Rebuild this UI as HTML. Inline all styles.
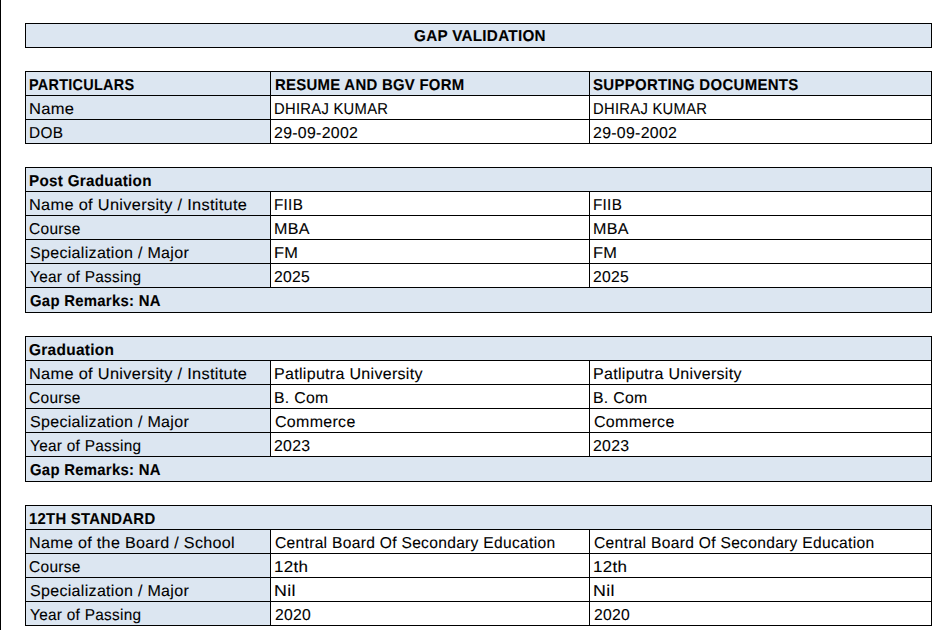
<!DOCTYPE html>
<html><head><meta charset="utf-8"><style>
html,body{margin:0;padding:0;background:#fff;width:932px;height:630px;overflow:hidden;position:relative}
.b{position:absolute}
.t{position:absolute;white-space:nowrap;font-family:"Liberation Sans",sans-serif;color:#000;line-height:20px;transform-origin:0 0;text-rendering:geometricPrecision;-webkit-text-stroke:0.1px #000}
</style></head><body>
<div class="b" style="left:0px;top:0px;width:1.2px;height:630px;background:#000"></div><div class="b" style="left:25px;top:23px;width:907px;height:25px;background:#DCE6F1"></div><div class="b" style="left:25px;top:23px;width:907px;height:1px;background:#000"></div><div class="b" style="left:25px;top:47px;width:907px;height:1px;background:#000"></div><div class="b" style="left:25px;top:23px;width:1px;height:25px;background:#000"></div><div class="b" style="left:931px;top:23px;width:1px;height:25px;background:#000"></div><div class="b" style="left:25px;top:71px;width:907px;height:25px;background:#DCE6F1"></div><div class="b" style="left:25px;top:71px;width:907px;height:1px;background:#000"></div><div class="b" style="left:25px;top:95px;width:907px;height:1px;background:#000"></div><div class="b" style="left:25px;top:71px;width:1px;height:25px;background:#000"></div><div class="b" style="left:931px;top:71px;width:1px;height:25px;background:#000"></div><div class="b" style="left:270px;top:71px;width:1px;height:25px;background:#000"></div><div class="b" style="left:589px;top:71px;width:1px;height:25px;background:#000"></div><div class="b" style="left:25px;top:95px;width:245px;height:25px;background:#DCE6F1"></div><div class="b" style="left:25px;top:95px;width:907px;height:1px;background:#000"></div><div class="b" style="left:25px;top:119px;width:907px;height:1px;background:#000"></div><div class="b" style="left:25px;top:95px;width:1px;height:25px;background:#000"></div><div class="b" style="left:931px;top:95px;width:1px;height:25px;background:#000"></div><div class="b" style="left:270px;top:95px;width:1px;height:25px;background:#000"></div><div class="b" style="left:589px;top:95px;width:1px;height:25px;background:#000"></div><div class="b" style="left:25px;top:119px;width:245px;height:25px;background:#DCE6F1"></div><div class="b" style="left:25px;top:119px;width:907px;height:1px;background:#000"></div><div class="b" style="left:25px;top:143px;width:907px;height:1px;background:#000"></div><div class="b" style="left:25px;top:119px;width:1px;height:25px;background:#000"></div><div class="b" style="left:931px;top:119px;width:1px;height:25px;background:#000"></div><div class="b" style="left:270px;top:119px;width:1px;height:25px;background:#000"></div><div class="b" style="left:589px;top:119px;width:1px;height:25px;background:#000"></div><div class="b" style="left:25px;top:167px;width:907px;height:25px;background:#DCE6F1"></div><div class="b" style="left:25px;top:167px;width:907px;height:1px;background:#000"></div><div class="b" style="left:25px;top:191px;width:907px;height:1px;background:#000"></div><div class="b" style="left:25px;top:167px;width:1px;height:25px;background:#000"></div><div class="b" style="left:931px;top:167px;width:1px;height:25px;background:#000"></div><div class="b" style="left:25px;top:191px;width:245px;height:25px;background:#DCE6F1"></div><div class="b" style="left:25px;top:191px;width:907px;height:1px;background:#000"></div><div class="b" style="left:25px;top:215px;width:907px;height:1px;background:#000"></div><div class="b" style="left:25px;top:191px;width:1px;height:25px;background:#000"></div><div class="b" style="left:931px;top:191px;width:1px;height:25px;background:#000"></div><div class="b" style="left:270px;top:191px;width:1px;height:25px;background:#000"></div><div class="b" style="left:589px;top:191px;width:1px;height:25px;background:#000"></div><div class="b" style="left:25px;top:215px;width:245px;height:25px;background:#DCE6F1"></div><div class="b" style="left:25px;top:215px;width:907px;height:1px;background:#000"></div><div class="b" style="left:25px;top:239px;width:907px;height:1px;background:#000"></div><div class="b" style="left:25px;top:215px;width:1px;height:25px;background:#000"></div><div class="b" style="left:931px;top:215px;width:1px;height:25px;background:#000"></div><div class="b" style="left:270px;top:215px;width:1px;height:25px;background:#000"></div><div class="b" style="left:589px;top:215px;width:1px;height:25px;background:#000"></div><div class="b" style="left:25px;top:239px;width:245px;height:25px;background:#DCE6F1"></div><div class="b" style="left:25px;top:239px;width:907px;height:1px;background:#000"></div><div class="b" style="left:25px;top:263px;width:907px;height:1px;background:#000"></div><div class="b" style="left:25px;top:239px;width:1px;height:25px;background:#000"></div><div class="b" style="left:931px;top:239px;width:1px;height:25px;background:#000"></div><div class="b" style="left:270px;top:239px;width:1px;height:25px;background:#000"></div><div class="b" style="left:589px;top:239px;width:1px;height:25px;background:#000"></div><div class="b" style="left:25px;top:263px;width:245px;height:25px;background:#DCE6F1"></div><div class="b" style="left:25px;top:263px;width:907px;height:1px;background:#000"></div><div class="b" style="left:25px;top:287px;width:907px;height:1px;background:#000"></div><div class="b" style="left:25px;top:263px;width:1px;height:25px;background:#000"></div><div class="b" style="left:931px;top:263px;width:1px;height:25px;background:#000"></div><div class="b" style="left:270px;top:263px;width:1px;height:25px;background:#000"></div><div class="b" style="left:589px;top:263px;width:1px;height:25px;background:#000"></div><div class="b" style="left:25px;top:287px;width:907px;height:26px;background:#DCE6F1"></div><div class="b" style="left:25px;top:287px;width:907px;height:1px;background:#000"></div><div class="b" style="left:25px;top:312px;width:907px;height:1px;background:#000"></div><div class="b" style="left:25px;top:287px;width:1px;height:26px;background:#000"></div><div class="b" style="left:931px;top:287px;width:1px;height:26px;background:#000"></div><div class="b" style="left:25px;top:336px;width:907px;height:25px;background:#DCE6F1"></div><div class="b" style="left:25px;top:336px;width:907px;height:1px;background:#000"></div><div class="b" style="left:25px;top:360px;width:907px;height:1px;background:#000"></div><div class="b" style="left:25px;top:336px;width:1px;height:25px;background:#000"></div><div class="b" style="left:931px;top:336px;width:1px;height:25px;background:#000"></div><div class="b" style="left:25px;top:360px;width:245px;height:25px;background:#DCE6F1"></div><div class="b" style="left:25px;top:360px;width:907px;height:1px;background:#000"></div><div class="b" style="left:25px;top:384px;width:907px;height:1px;background:#000"></div><div class="b" style="left:25px;top:360px;width:1px;height:25px;background:#000"></div><div class="b" style="left:931px;top:360px;width:1px;height:25px;background:#000"></div><div class="b" style="left:270px;top:360px;width:1px;height:25px;background:#000"></div><div class="b" style="left:589px;top:360px;width:1px;height:25px;background:#000"></div><div class="b" style="left:25px;top:384px;width:245px;height:25px;background:#DCE6F1"></div><div class="b" style="left:25px;top:384px;width:907px;height:1px;background:#000"></div><div class="b" style="left:25px;top:408px;width:907px;height:1px;background:#000"></div><div class="b" style="left:25px;top:384px;width:1px;height:25px;background:#000"></div><div class="b" style="left:931px;top:384px;width:1px;height:25px;background:#000"></div><div class="b" style="left:270px;top:384px;width:1px;height:25px;background:#000"></div><div class="b" style="left:589px;top:384px;width:1px;height:25px;background:#000"></div><div class="b" style="left:25px;top:408px;width:245px;height:25px;background:#DCE6F1"></div><div class="b" style="left:25px;top:408px;width:907px;height:1px;background:#000"></div><div class="b" style="left:25px;top:432px;width:907px;height:1px;background:#000"></div><div class="b" style="left:25px;top:408px;width:1px;height:25px;background:#000"></div><div class="b" style="left:931px;top:408px;width:1px;height:25px;background:#000"></div><div class="b" style="left:270px;top:408px;width:1px;height:25px;background:#000"></div><div class="b" style="left:589px;top:408px;width:1px;height:25px;background:#000"></div><div class="b" style="left:25px;top:432px;width:245px;height:25px;background:#DCE6F1"></div><div class="b" style="left:25px;top:432px;width:907px;height:1px;background:#000"></div><div class="b" style="left:25px;top:456px;width:907px;height:1px;background:#000"></div><div class="b" style="left:25px;top:432px;width:1px;height:25px;background:#000"></div><div class="b" style="left:931px;top:432px;width:1px;height:25px;background:#000"></div><div class="b" style="left:270px;top:432px;width:1px;height:25px;background:#000"></div><div class="b" style="left:589px;top:432px;width:1px;height:25px;background:#000"></div><div class="b" style="left:25px;top:456px;width:907px;height:26px;background:#DCE6F1"></div><div class="b" style="left:25px;top:456px;width:907px;height:1px;background:#000"></div><div class="b" style="left:25px;top:481px;width:907px;height:1px;background:#000"></div><div class="b" style="left:25px;top:456px;width:1px;height:26px;background:#000"></div><div class="b" style="left:931px;top:456px;width:1px;height:26px;background:#000"></div><div class="b" style="left:25px;top:505px;width:907px;height:25px;background:#DCE6F1"></div><div class="b" style="left:25px;top:505px;width:907px;height:1px;background:#000"></div><div class="b" style="left:25px;top:529px;width:907px;height:1px;background:#000"></div><div class="b" style="left:25px;top:505px;width:1px;height:25px;background:#000"></div><div class="b" style="left:931px;top:505px;width:1px;height:25px;background:#000"></div><div class="b" style="left:25px;top:529px;width:245px;height:25px;background:#DCE6F1"></div><div class="b" style="left:25px;top:529px;width:907px;height:1px;background:#000"></div><div class="b" style="left:25px;top:553px;width:907px;height:1px;background:#000"></div><div class="b" style="left:25px;top:529px;width:1px;height:25px;background:#000"></div><div class="b" style="left:931px;top:529px;width:1px;height:25px;background:#000"></div><div class="b" style="left:270px;top:529px;width:1px;height:25px;background:#000"></div><div class="b" style="left:589px;top:529px;width:1px;height:25px;background:#000"></div><div class="b" style="left:25px;top:553px;width:245px;height:25px;background:#DCE6F1"></div><div class="b" style="left:25px;top:553px;width:907px;height:1px;background:#000"></div><div class="b" style="left:25px;top:577px;width:907px;height:1px;background:#000"></div><div class="b" style="left:25px;top:553px;width:1px;height:25px;background:#000"></div><div class="b" style="left:931px;top:553px;width:1px;height:25px;background:#000"></div><div class="b" style="left:270px;top:553px;width:1px;height:25px;background:#000"></div><div class="b" style="left:589px;top:553px;width:1px;height:25px;background:#000"></div><div class="b" style="left:25px;top:577px;width:245px;height:25px;background:#DCE6F1"></div><div class="b" style="left:25px;top:577px;width:907px;height:1px;background:#000"></div><div class="b" style="left:25px;top:601px;width:907px;height:1px;background:#000"></div><div class="b" style="left:25px;top:577px;width:1px;height:25px;background:#000"></div><div class="b" style="left:931px;top:577px;width:1px;height:25px;background:#000"></div><div class="b" style="left:270px;top:577px;width:1px;height:25px;background:#000"></div><div class="b" style="left:589px;top:577px;width:1px;height:25px;background:#000"></div><div class="b" style="left:25px;top:601px;width:245px;height:25px;background:#DCE6F1"></div><div class="b" style="left:25px;top:601px;width:907px;height:1px;background:#000"></div><div class="b" style="left:25px;top:625px;width:907px;height:1px;background:#000"></div><div class="b" style="left:25px;top:601px;width:1px;height:25px;background:#000"></div><div class="b" style="left:931px;top:601px;width:1px;height:25px;background:#000"></div><div class="b" style="left:270px;top:601px;width:1px;height:25px;background:#000"></div><div class="b" style="left:589px;top:601px;width:1px;height:25px;background:#000"></div><div class="t" style="left:413.70px;top:26.53px;font-size:15.8px;font-weight:bold;letter-spacing:0.3px;transform:scaleX(0.9645)">GAP VALIDATION</div><div class="t" style="left:29.29px;top:75.53px;font-size:15.8px;font-weight:bold;letter-spacing:0.3px;transform:scaleX(0.9140)">PARTICULARS</div><div class="t" style="left:274.74px;top:75.53px;font-size:15.8px;font-weight:bold;letter-spacing:0.3px;transform:scaleX(0.9435)">RESUME AND BGV FORM</div><div class="t" style="left:593.30px;top:75.53px;font-size:15.8px;font-weight:bold;letter-spacing:0.3px;transform:scaleX(0.9486)">SUPPORTING DOCUMENTS</div><div class="t" style="left:28.73px;top:99.53px;font-size:15.8px;font-weight:normal;letter-spacing:0.3px;transform:scaleX(1.0457)">Name</div><div class="t" style="left:274.28px;top:99.53px;font-size:15.8px;font-weight:normal;letter-spacing:0.3px;transform:scaleX(0.9360)">DHIRAJ KUMAR</div><div class="t" style="left:593.28px;top:99.53px;font-size:15.8px;font-weight:normal;letter-spacing:0.3px;transform:scaleX(0.9360)">DHIRAJ KUMAR</div><div class="t" style="left:28.83px;top:123.53px;font-size:15.8px;font-weight:normal;letter-spacing:0.3px;transform:scaleX(0.9729)">DOB</div><div class="t" style="left:274.46px;top:123.53px;font-size:15.8px;font-weight:normal;letter-spacing:0.3px;transform:scaleX(1.0050)">29-09-2002</div><div class="t" style="left:593.46px;top:123.53px;font-size:15.8px;font-weight:normal;letter-spacing:0.3px;transform:scaleX(1.0050)">29-09-2002</div><div class="t" style="left:29.14px;top:171.53px;font-size:15.8px;font-weight:bold;letter-spacing:0.3px;transform:scaleX(0.9635)">Post Graduation</div><div class="t" style="left:28.53px;top:195.53px;font-size:15.8px;font-weight:normal;letter-spacing:0.3px;transform:scaleX(1.0348)">Name of University / Institute</div><div class="t" style="left:274.19px;top:195.53px;font-size:15.8px;font-weight:normal;letter-spacing:0.3px;transform:scaleX(0.9641)">FIIB</div><div class="t" style="left:593.19px;top:195.53px;font-size:15.8px;font-weight:normal;letter-spacing:0.3px;transform:scaleX(0.9641)">FIIB</div><div class="t" style="left:29.22px;top:219.53px;font-size:15.8px;font-weight:normal;letter-spacing:0.3px;transform:scaleX(0.9803)">Course</div><div class="t" style="left:273.91px;top:219.53px;font-size:15.8px;font-weight:normal;letter-spacing:0.3px;transform:scaleX(1.0179)">MBA</div><div class="t" style="left:592.91px;top:219.53px;font-size:15.8px;font-weight:normal;letter-spacing:0.3px;transform:scaleX(1.0179)">MBA</div><div class="t" style="left:29.74px;top:243.53px;font-size:15.8px;font-weight:normal;letter-spacing:0.3px;transform:scaleX(1.0147)">Specialization / Major</div><div class="t" style="left:274.22px;top:243.53px;font-size:15.8px;font-weight:normal;letter-spacing:0.3px;transform:scaleX(1.0362)">FM</div><div class="t" style="left:593.22px;top:243.53px;font-size:15.8px;font-weight:normal;letter-spacing:0.3px;transform:scaleX(1.0362)">FM</div><div class="t" style="left:30.06px;top:267.53px;font-size:15.8px;font-weight:normal;letter-spacing:0.3px;transform:scaleX(0.9722)">Year of Passing</div><div class="t" style="left:274.49px;top:267.53px;font-size:15.8px;font-weight:normal;letter-spacing:0.3px;transform:scaleX(0.9931)">2025</div><div class="t" style="left:593.49px;top:267.53px;font-size:15.8px;font-weight:normal;letter-spacing:0.3px;transform:scaleX(0.9931)">2025</div><div class="t" style="left:29.97px;top:291.53px;font-size:15.8px;font-weight:bold;letter-spacing:0.3px;transform:scaleX(0.9420)">Gap Remarks: NA</div><div class="t" style="left:29.28px;top:340.53px;font-size:15.8px;font-weight:bold;letter-spacing:0.3px;transform:scaleX(0.9774)">Graduation</div><div class="t" style="left:28.53px;top:364.53px;font-size:15.8px;font-weight:normal;letter-spacing:0.3px;transform:scaleX(1.0348)">Name of University / Institute</div><div class="t" style="left:274.26px;top:364.53px;font-size:15.8px;font-weight:normal;letter-spacing:0.3px;transform:scaleX(1.0137)">Patliputra University</div><div class="t" style="left:593.26px;top:364.53px;font-size:15.8px;font-weight:normal;letter-spacing:0.3px;transform:scaleX(1.0137)">Patliputra University</div><div class="t" style="left:29.22px;top:388.53px;font-size:15.8px;font-weight:normal;letter-spacing:0.3px;transform:scaleX(0.9803)">Course</div><div class="t" style="left:273.62px;top:388.53px;font-size:15.8px;font-weight:normal;letter-spacing:0.3px;transform:scaleX(1.0003)">B. Com</div><div class="t" style="left:592.62px;top:388.53px;font-size:15.8px;font-weight:normal;letter-spacing:0.3px;transform:scaleX(1.0003)">B. Com</div><div class="t" style="left:29.74px;top:412.53px;font-size:15.8px;font-weight:normal;letter-spacing:0.3px;transform:scaleX(1.0147)">Specialization / Major</div><div class="t" style="left:274.60px;top:412.53px;font-size:15.8px;font-weight:normal;letter-spacing:0.3px;transform:scaleX(1.0120)">Commerce</div><div class="t" style="left:593.60px;top:412.53px;font-size:15.8px;font-weight:normal;letter-spacing:0.3px;transform:scaleX(1.0120)">Commerce</div><div class="t" style="left:30.06px;top:436.53px;font-size:15.8px;font-weight:normal;letter-spacing:0.3px;transform:scaleX(0.9722)">Year of Passing</div><div class="t" style="left:274.46px;top:436.53px;font-size:15.8px;font-weight:normal;letter-spacing:0.3px;transform:scaleX(1.0022)">2023</div><div class="t" style="left:593.46px;top:436.53px;font-size:15.8px;font-weight:normal;letter-spacing:0.3px;transform:scaleX(1.0022)">2023</div><div class="t" style="left:29.97px;top:460.53px;font-size:15.8px;font-weight:bold;letter-spacing:0.3px;transform:scaleX(0.9420)">Gap Remarks: NA</div><div class="t" style="left:29.26px;top:509.53px;font-size:15.8px;font-weight:bold;letter-spacing:0.3px;transform:scaleX(0.9406)">12TH STANDARD</div><div class="t" style="left:28.97px;top:533.53px;font-size:15.8px;font-weight:normal;letter-spacing:0.3px;transform:scaleX(1.0202)">Name of the Board / School</div><div class="t" style="left:275.04px;top:533.53px;font-size:15.8px;font-weight:normal;letter-spacing:0.3px;transform:scaleX(0.9877)">Central Board Of Secondary Education</div><div class="t" style="left:594.04px;top:533.53px;font-size:15.8px;font-weight:normal;letter-spacing:0.3px;transform:scaleX(0.9877)">Central Board Of Secondary Education</div><div class="t" style="left:29.22px;top:557.53px;font-size:15.8px;font-weight:normal;letter-spacing:0.3px;transform:scaleX(0.9803)">Course</div><div class="t" style="left:273.78px;top:557.53px;font-size:15.8px;font-weight:normal;letter-spacing:0.3px;transform:scaleX(1.0742)">12th</div><div class="t" style="left:592.78px;top:557.53px;font-size:15.8px;font-weight:normal;letter-spacing:0.3px;transform:scaleX(1.0742)">12th</div><div class="t" style="left:29.74px;top:581.53px;font-size:15.8px;font-weight:normal;letter-spacing:0.3px;transform:scaleX(1.0147)">Specialization / Major</div><div class="t" style="left:274.33px;top:581.53px;font-size:15.8px;font-weight:normal;letter-spacing:0.3px;transform:scaleX(1.1277)">Nil</div><div class="t" style="left:593.33px;top:581.53px;font-size:15.8px;font-weight:normal;letter-spacing:0.3px;transform:scaleX(1.1277)">Nil</div><div class="t" style="left:30.06px;top:605.53px;font-size:15.8px;font-weight:normal;letter-spacing:0.3px;transform:scaleX(0.9722)">Year of Passing</div><div class="t" style="left:274.53px;top:605.53px;font-size:15.8px;font-weight:normal;letter-spacing:0.3px;transform:scaleX(0.9945)">2020</div><div class="t" style="left:593.53px;top:605.53px;font-size:15.8px;font-weight:normal;letter-spacing:0.3px;transform:scaleX(0.9945)">2020</div>
</body></html>
